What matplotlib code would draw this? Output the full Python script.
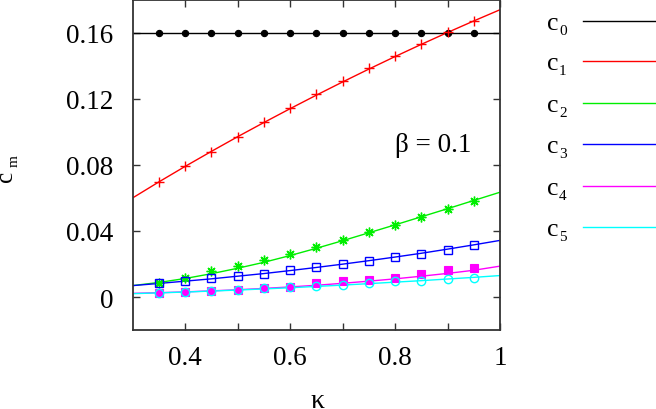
import matplotlib
matplotlib.use("Agg")
import matplotlib.pyplot as plt
from matplotlib.lines import Line2D

plt.rcParams['font.family'] = ['Liberation Serif', 'DejaVu Serif']

# theory curve sample positions
kappa_line = [0.30, 0.35, 0.40, 0.45, 0.50, 0.55, 0.60, 0.65, 0.70, 0.75, 0.80, 0.85, 0.90, 0.95, 1.00]
c0_line = [0.16] * 15
c1_line = [0.0600, 0.0697, 0.0791, 0.0882, 0.0971, 0.1057, 0.1141, 0.1223, 0.1303, 0.1381, 0.1457, 0.1531, 0.1603, 0.1673, 0.1741]
c2_line = [0.0069, 0.0088, 0.0112, 0.0141, 0.0174, 0.0210, 0.0251, 0.0295, 0.0341, 0.0389, 0.0437, 0.0486, 0.0535, 0.0585, 0.0635]
c3_line = [0.0069, 0.0082, 0.0096, 0.0110, 0.0126, 0.0142, 0.0160, 0.0179, 0.0199, 0.0220, 0.0242, 0.0265, 0.0290, 0.0316, 0.0343]
c4_line = [0.0022, 0.0026, 0.0031, 0.0037, 0.0044, 0.0052, 0.0061, 0.0071, 0.0083, 0.0096, 0.0110, 0.0126, 0.0143, 0.0162, 0.0187]
c5_line = [0.0020, 0.0025, 0.0030, 0.0036, 0.0042, 0.0049, 0.0056, 0.0064, 0.0072, 0.0081, 0.0090, 0.0099, 0.0109, 0.0119, 0.0130]

# simulation points
kappa_pts = [0.35, 0.40, 0.45, 0.50, 0.55, 0.60, 0.65, 0.70, 0.75, 0.80, 0.85, 0.90, 0.95]
c0_pts = [0.16] * 13
c1_pts = [0.0695, 0.0792, 0.0881, 0.0972, 0.1060, 0.1145, 0.1228, 0.1311, 0.1388, 0.1463, 0.1535, 0.1604, 0.1673]
c2_pts = [0.0085, 0.0115, 0.0159, 0.0186, 0.0224, 0.0262, 0.0303, 0.0345, 0.0392, 0.0436, 0.0485, 0.0533, 0.0584]
c3_pts = [0.0083, 0.0095, 0.0113, 0.0129, 0.0141, 0.0166, 0.0184, 0.0202, 0.0216, 0.0244, 0.0262, 0.0283, 0.0315]
c4_pts = [0.0024, 0.0028, 0.0034, 0.0044, 0.0053, 0.0062, 0.0082, 0.0095, 0.0103, 0.0115, 0.0137, 0.0166, 0.0176]
c5_pts = [0.0027, 0.0032, 0.0036, 0.0044, 0.0052, 0.0059, 0.0069, 0.0073, 0.0083, 0.0095, 0.0099, 0.0110, 0.0118]

label_base = 'c'
label_subs = ['0', '1', '2', '3', '4', '5']
colors = ['#000000', '#ff0000', '#00ee00', '#0000ff', '#ff00ff', '#00ffff']

xticks_major = [0.4, 0.6, 0.8, 1.0]
xtick_labels = ['0.4', '0.6', '0.8', '1']
xticks_minor = [0.5, 0.7, 0.9]
yticks = [0.0, 0.04, 0.08, 0.12, 0.16]
ytick_labels = ['0', '0.04', '0.08', '0.12', '0.16']

fig = plt.figure(figsize=(6.56, 4.10), dpi=100)
W, H = 656, 410
ax = fig.add_axes([132.5 / W, 1 - 331 / H, (500 - 132.5) / W, (331 - 1) / H])

lines = [c0_line, c1_line, c2_line, c3_line, c4_line, c5_line]
pts = [c0_pts, c1_pts, c2_pts, c3_pts, c4_pts, c5_pts]
markers = [dict(marker='o', ms=4.5, mfc=colors[0], mew=0.8),
           dict(marker='+', ms=7, mew=1.0),
           dict(marker=(8, 2, 0), ms=7, mew=1.0),
           dict(marker='s', ms=6, mfc='none', mew=1.0),
           dict(marker='s', ms=5.5, mfc=colors[4], mew=0.8),
           dict(marker='o', ms=6, mfc='none', mew=1.0)]

for i in range(6):
    ax.plot(kappa_line, lines[i], color=colors[i], lw=1.0, zorder=2)
    ax.plot(kappa_pts, pts[i], ls='none', color=colors[i], mec=colors[i], zorder=3, **markers[i])

ax.set_xlim(0.3, 1.0)
ax.set_ylim(-0.02, 0.18)
ax.set_xticks(xticks_major)
ax.set_xticklabels(xtick_labels)
ax.set_xticks(xticks_minor, minor=True)
ax.set_yticks(yticks)
ax.set_yticklabels(ytick_labels)
ax.tick_params(which='both', direction='in', top=True, right=True, length=5, width=1.0,
               color='#333333', labelsize=19.5)
ax.tick_params(axis='x', pad=11)
ax.tick_params(axis='y', pad=14)
for s in ax.spines.values():
    s.set_linewidth(1.3)
    s.set_color('#333333')

ax.text(0.80, 0.0885, 'β = 0.1', fontsize=19.5, va='baseline', ha='left')

# y label c_m (rotated, gnuplot style with low subscript)
fig.text(12 / W, 1 - 182 / H, 'c', rotation=90, rotation_mode='anchor',
         ha='left', va='baseline', fontsize=18)
fig.text(18 / W, 1 - 167 / H, 'm', rotation=90, rotation_mode='anchor',
         ha='left', va='baseline', fontsize=11)

fig.text(317.5 / W, 1.5 / H, 'κ', ha='center', va='baseline', fontsize=20)

# legend (text + line sample, gnuplot style)
leg_y = [22, 62, 104, 145, 187, 228]
for i in range(6):
    fig.text(546.5 / W, 1 - (leg_y[i] + 8) / H, label_base, ha='left', va='baseline', fontsize=18.5)
    fig.text(559 / W, 1 - (leg_y[i] + 13) / H, label_subs[i], ha='left', va='baseline', fontsize=11)
    fig.add_artist(Line2D([583 / W, 1.0], [1 - leg_y[i] / H] * 2, transform=fig.transFigure,
                          color=colors[i], lw=1.0))

fig.savefig('out.png', dpi=100)
